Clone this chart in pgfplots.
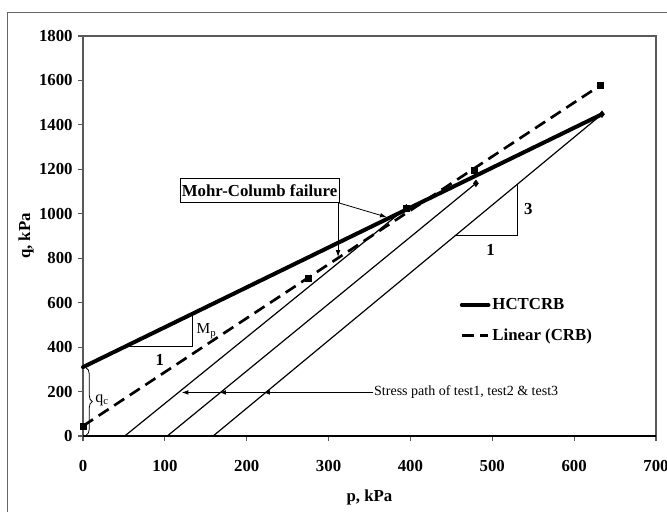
\documentclass[border=0pt]{standalone}
\usepackage{fontspec}
\setmainfont{Liberation Serif}
\usepackage{pgfplots}
\pgfplotsset{compat=1.18}
\usetikzlibrary{arrows.meta,decorations.pathreplacing}

\newcommand{\bigbf}{\fontsize{12.6}{14}\selectfont\bfseries}

\begin{document}
\begin{tikzpicture}
\useasboundingbox (-62.25pt,-56.25pt) rectangle (438pt,327pt);
% chart area frame (cut by the page at right and bottom)
\draw[gray!80!black, line width=0.75pt] (-56.6pt,-70pt) -- (-56.6pt,317.6pt) -- (450pt,317.6pt);
\begin{axis}[
  at={(0,0)}, anchor=south west,
  scale only axis, width=429.75pt, height=300pt,
  xmin=0, xmax=700, ymin=0, ymax=1800,
  xtick={0,100,...,700}, ytick={0,200,...,1800},
  tick pos=left, tick align=outside, major tick length=3.75pt,
  tick style={gray!70!black, line width=0.8pt},
  axis line style={gray!70!black, line width=0.8pt},
  /pgf/number format/assume math mode=true,
  /pgf/number format/1000 sep={},
  ticklabel style={font=\bigbf},
  xticklabel style={yshift=-11pt},
  yticklabel style={xshift=-0.5pt},
  xlabel={p, kPa}, ylabel={q, kPa},
  label style={font=\bigbf},
  xlabel style={at={(axis description cs:0.5,-0.1525)}, anchor=center},
  ylabel style={at={(axis description cs:-0.0995,0.5)}, anchor=center},
  legend style={at={(axis cs:460,520)}, anchor=west, draw=none, fill=none,
    font=\bigbf, row sep=10pt, inner sep=0pt, nodes={inner sep=1.5pt}},
  legend cell align=left,
  legend image code/.code={\draw[#1] (0pt,0pt) -- (20pt,0pt);},
  clip=false,
]
% stress paths of test1, test2, test3
\addplot[black, line width=0.9pt, forget plot] coordinates {(51,0) (395,1027)};
\addplot[black, line width=0.9pt, forget plot] coordinates {(103,0) (480,1137)};
\addplot[black, line width=0.9pt, forget plot] coordinates {(159,0) (634,1448)};
\addplot[only marks, mark=diamond*, mark size=2.5pt, black, forget plot]
  coordinates {(395,1027) (480,1137) (634,1448)};

\addplot[black, line width=3pt, line cap=round] coordinates {(0,310) (634,1448)};
\addlegendentry{HCTCRB}

\addplot[only marks, mark=square*, mark size=2.2pt, black, forget plot]
  coordinates {(0,45) (275,708) (395,1025) (478,1195) (632,1578)};

\addplot[black, line width=2pt, dash pattern=on 9pt off 5pt] coordinates {(0,45) (632,1578)};
\addlegendentry{Linear (CRB)}

% bottom axis line is darker
\draw[black, line width=1.2pt] (rel axis cs:0,0) -- (rel axis cs:1,0);

% M_p triangle
\draw[black, line width=0.6pt] (axis cs:51,402) -- (axis cs:134,402) -- (axis cs:134,550);
\node[anchor=west, inner sep=1pt, font=\fontsize{11.5}{13}\selectfont] at (axis cs:137,472) {M\textsubscript{p}};
\node[font=\bigbf] at (axis cs:94,342) {1};

% 3:1 triangle
\draw[black, line width=0.6pt] (axis cs:455,902) -- (axis cs:531,902) -- (axis cs:531,1134);
\node[font=\bigbf] at (axis cs:544,1023) {3};
\node[font=\bigbf] at (axis cs:498,837) {1};

% Mohr-Columb failure
\node[draw, line width=0.6pt, fill=white, minimum width=119pt, minimum height=18pt,
  inner sep=0pt, font=\bigbf] at (axis cs:215.7,1104.5) {Mohr-Columb failure};
\draw[-{Latex[length=5pt,width=3.5pt]}, line width=0.6pt] (axis cs:311.6,1050) -- (axis cs:371,985);
\draw[-{Latex[length=5pt,width=3.5pt]}, line width=0.6pt] (axis cs:311.6,1050) -- (axis cs:311.6,806);

% stress path arrows
\draw[-{Latex[length=5pt,width=3.5pt]}, line width=0.6pt] (axis cs:354.6,196) -- (axis cs:120.6,196);
\draw[-{Latex[length=5pt,width=3.5pt]}, line width=0.6pt] (axis cs:354.6,196) -- (axis cs:166.5,196);
\draw[-{Latex[length=5pt,width=3.5pt]}, line width=0.6pt] (axis cs:354.6,196) -- (axis cs:220.3,196);
\node[anchor=west, inner sep=0.5pt, font=\fontsize{10.5}{12}\selectfont] at (axis cs:354.6,196)
  {Stress path of test1, test2 \& test3};

% q_c brace
\draw[decorate, decoration={brace, amplitude=4.5pt}, line width=0.6pt] (axis cs:4,306) -- (axis cs:4,4);
\node[anchor=west, inner sep=0.5pt, font=\fontsize{12}{14}\selectfont] at (axis cs:14,160) {q\textsubscript{c}};
\end{axis}
\end{tikzpicture}
\end{document}
